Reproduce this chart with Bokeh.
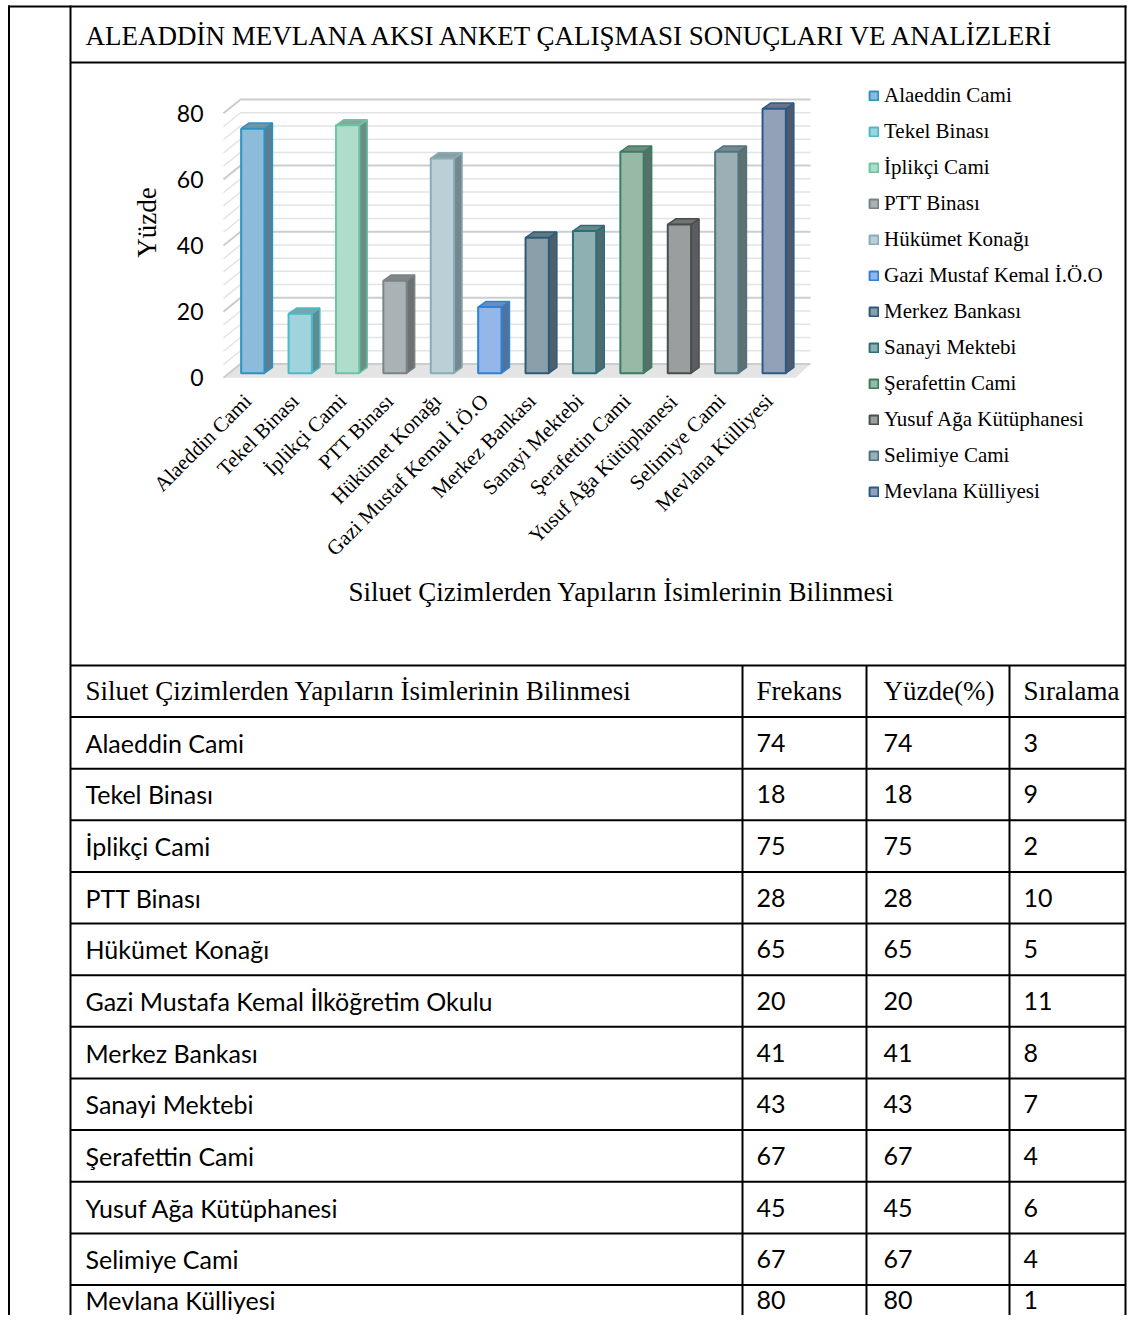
import math
from bokeh.plotting import figure
from bokeh.models import Range1d, LinearAxis, FixedTicker, Legend, LegendItem, ColumnDataSource
from bokeh.core.properties import value
from bokeh.embed import file_html
from bokeh.resources import INLINE

# ---------------- data ----------------
title_text = "ALEADDİN MEVLANA AKSI ANKET ÇALIŞMASI SONUÇLARI VE ANALİZLERİ"
caption = "Siluet Çizimlerden Yapıların İsimlerinin Bilinmesi"
y_title = "Yüzde"
chart_names = ["Alaeddin Cami", "Tekel Binası", "İplikçi Cami", "PTT Binası", "Hükümet Konağı",
               "Gazi Mustaf Kemal İ.Ö.O", "Merkez Bankası", "Sanayi Mektebi", "Şerafettin Cami",
               "Yusuf Ağa Kütüphanesi", "Selimiye Cami", "Mevlana Külliyesi"]
bar_values = [74, 18, 75, 28, 65, 20, 41, 43, 67, 45, 67, 80]
y_ticks = [0, 20, 40, 60, 80]

table_header = ["Siluet Çizimlerden Yapıların İsimlerinin Bilinmesi", "Frekans", "Yüzde(%)", "Sıralama"]
row_names = ["Alaeddin Cami", "Tekel Binası", "İplikçi Cami", "PTT Binası", "Hükümet Konağı",
             "Gazi Mustafa Kemal İlköğretim Okulu", "Merkez Bankası", "Sanayi Mektebi", "Şerafettin Cami",
             "Yusuf Ağa Kütüphanesi", "Selimiye Cami", "Mevlana Külliyesi"]
frekans = [74, 18, 75, 28, 65, 20, 41, 43, 67, 45, 67, 80]
yuzde = [74, 18, 75, 28, 65, 20, 41, 43, 67, 45, 67, 80]
siralama = [3, 9, 2, 10, 5, 11, 8, 7, 4, 6, 4, 1]

# ---------------- style ----------------
front_cols = ["#8dbcdb", "#a0d3dc", "#b0dccb", "#a9b3b6", "#bacfd6", "#94b6e8",
              "#8a9fa9", "#8fb0b3", "#97b9a5", "#9b9e9f", "#9cafb4", "#93a1b8"]
edge_cols = ["#2e92c0", "#4cb9c9", "#6cc4a4", "#7b8386", "#88acb8", "#2f82d6",
             "#2b5b78", "#2d6e78", "#3b7d62", "#4b4e50", "#4d7680", "#2a5a88"]
side_cols = ["#587f94", "#5f8b93", "#6b8f84", "#6c7274", "#74888d", "#53719b",
             "#4e5f69", "#4f6a6e", "#56706a", "#5a5d5f", "#5f6f72", "#4e5a6c"]
top_cols = ["#6f95a8", "#78a4ab", "#84a89b", "#808689", "#8a9ea4", "#6d8cb8",
            "#66777f", "#68858a", "#6f8c80", "#717475", "#76888c", "#687488"]

FONT_SERIF = "Liberation Serif"
FONT_SANS = "Lato"

W, H = 1127, 1315
X0, Y0 = 0, 0
X1, Y1 = X0 + W, Y0 + H

# bar chart mapping (figure pixels)
BAR0_X, BAR_STEP = 252.3, 47.4
ZERO_Y, PX_UNIT = 372.7, 3.305

def bx(px):
    return (px - BAR0_X) / BAR_STEP

def dxu(px):
    return px / BAR_STEP

def dyu(px):
    return px / PX_UNIT

p = figure(width=W, height=H, x_range=Range1d(X0, X1), y_range=Range1d(Y1, Y0),
           x_axis_location=None, y_axis_location=None, output_backend="svg",
           toolbar_location=None, min_border=0, outline_line_color=None,
           background_fill_color="white", border_fill_color="white")
p.grid.visible = False

bx_start, bx_end = (X0 - BAR0_X) / BAR_STEP, (X1 - BAR0_X) / BAR_STEP
p.extra_x_ranges = {"bx": Range1d(bx_start, bx_end),
                    "bxa": Range1d(bx_start + dxu(5), bx_end + dxu(5))}
p.extra_y_ranges = {"by": Range1d((ZERO_Y - Y1) / PX_UNIT, (ZERO_Y - Y0) / PX_UNIT)}

front_drop = dyu(4.5)
back_rise = dyu(9.3)
p.extra_y_ranges["ay"] = Range1d((ZERO_Y - Y1) / PX_UNIT + front_drop, (ZERO_Y - Y0) / PX_UNIT + front_drop)

wall_l = bx(223)
wall_dx = dxu(17)
wall_r = bx(810)

# floor
p.patch(x=[wall_l, bx(795), wall_r, wall_l + wall_dx],
        y=[-front_drop, -front_drop, back_rise, back_rise],
        fill_color="#e4e4e4", line_color=None, x_range_name="bx", y_range_name="by")

# wall gridlines (major every 20, minor every 4)
minor_vals = list(range(y_ticks[0], y_ticks[-1] + 1, 4))
g_xs, g_ys, g_col, g_w = [], [], [], []
for v in minor_vals:
    g_xs.append([wall_l, wall_l + wall_dx, wall_r])
    g_ys.append([v - front_drop, v + back_rise, v + back_rise])
    major = v in y_ticks
    g_col.append("#cdcdcd" if major else "#e4e4e4")
    g_w.append(2.0 if major else 1.5)
p.multi_line(xs=g_xs, ys=g_ys, line_color=g_col, line_width=g_w,
             x_range_name="bx", y_range_name="by")

# bars (3D look)
idx = list(range(len(bar_values)))
bw = dxu(23.3)
ddx = dxu(8)
ddy = dyu(5.7)
side_xs = [[i + bw / 2, i + bw / 2 + ddx, i + bw / 2 + ddx, i + bw / 2] for i in idx]
side_ys = [[0, ddy, v + ddy, v] for v in bar_values]
top_xs = [[i - bw / 2, i + bw / 2, i + bw / 2 + ddx, i - bw / 2 + ddx] for i in idx]
top_ys = [[v, v, v + ddy, v + ddy] for v in bar_values]
p.patches(xs=side_xs, ys=side_ys, fill_color=side_cols, line_color=edge_cols, line_width=1.5,
          x_range_name="bx", y_range_name="by")
p.patches(xs=top_xs, ys=top_ys, fill_color=top_cols, line_color=edge_cols, line_width=1.5,
          x_range_name="bx", y_range_name="by")
src = ColumnDataSource(dict(x=idx, top=bar_values, fill=front_cols, edge=edge_cols, name=chart_names))
front = p.vbar(x="x", width=bw, top="top", bottom=0, source=src, fill_color="fill",
               line_color="edge", line_width=2, x_range_name="bx", y_range_name="by")

# y axis
yax = LinearAxis(y_range_name="ay", fixed_location=223, ticker=FixedTicker(ticks=y_ticks), bounds=(0, 94),
                 axis_label=y_title, axis_line_color=None, major_tick_line_color=None,
                 minor_tick_line_color=None, major_label_standoff=14,
                 major_label_text_font=FONT_SANS, major_label_text_font_size="23px",
                 major_label_text_color="black",
                 axis_label_text_font=FONT_SERIF, axis_label_text_font_size="27px",
                 axis_label_text_font_style="normal", axis_label_text_color="black",
                 axis_label_standoff=12)
p.add_layout(yax, "left")

# x axis
xax = LinearAxis(x_range_name="bxa", fixed_location=376, ticker=FixedTicker(ticks=idx),
                 major_label_overrides={i: n for i, n in enumerate(chart_names)},
                 major_label_orientation=math.pi / 4, axis_line_color=None,
                 major_tick_line_color=None, minor_tick_line_color=None,
                 major_label_standoff=15, major_label_text_font=FONT_SERIF,
                 major_label_text_font_size="21px", major_label_text_color="black")
p.add_layout(xax, "below")

# legend
items = [LegendItem(label=n, renderers=[front], index=i) for i, n in enumerate(chart_names)]
legend = Legend(items=items, location=(868, 811), orientation="vertical",
                background_fill_alpha=0, border_line_color=None, padding=0, margin=0,
                spacing=11, label_height=25, glyph_height=11, glyph_width=11, label_standoff=5,
                label_text_font=FONT_SERIF, label_text_font_size="21px", label_text_color="black")
p.add_layout(legend)

# titles
p.text(x=[85], y=[35], text=[title_text], text_font=value(FONT_SERIF), text_font_size="27px",
       text_baseline="middle", text_align="left", text_color="black")
p.text(x=[621], y=[591], text=[caption], text_font=value(FONT_SERIF), text_font_size="27px",
       text_baseline="middle", text_align="center", text_color="black")

# table
HDR_TOP, HDR_BOT, ROW_H = 665, 716.5, 51.64
col_x = [85, 756, 883, 1023]
col_lines = [742, 866, 1009]
p.text(x=col_x, y=[(HDR_TOP + HDR_BOT) / 2] * 4, text=table_header, text_font=value(FONT_SERIF),
       text_font_size="27px", text_baseline="middle", text_align="left", text_color="black")
row_y = [min(HDR_BOT + (i + 0.5) * ROW_H, Y1 - 16) for i in range(len(row_names))]
for cx, col in zip(col_x, [row_names, frekans, yuzde, siralama]):
    p.text(x=[cx] * len(col), y=row_y, text=[str(c) for c in col], text_font=value(FONT_SANS),
           text_font_size="25px", text_baseline="middle", text_align="left", text_color="black")

# borders
L_OUT, L_IN, R_OUT, T_OUT = 8.5, 70, 1125, 6
sx0, sy0, sx1, sy1 = [], [], [], []
for xv in (L_OUT, L_IN, R_OUT):
    sx0.append(xv); sy0.append(T_OUT - 1); sx1.append(xv); sy1.append(Y1)
sx0.append(L_OUT - 1); sy0.append(T_OUT); sx1.append(R_OUT + 1); sy1.append(T_OUT)
for yv in [62, HDR_TOP, HDR_BOT] + [HDR_BOT + (i + 1) * ROW_H for i in range(len(row_names))]:
    sx0.append(L_IN); sy0.append(yv); sx1.append(R_OUT); sy1.append(yv)
for xv in col_lines:
    sx0.append(xv); sy0.append(HDR_TOP); sx1.append(xv); sy1.append(Y1)
p.segment(x0=sx0, y0=sy0, x1=sx1, y1=sy1, line_color="black", line_width=2)

open("out.html", "w").write(file_html(p, INLINE))
